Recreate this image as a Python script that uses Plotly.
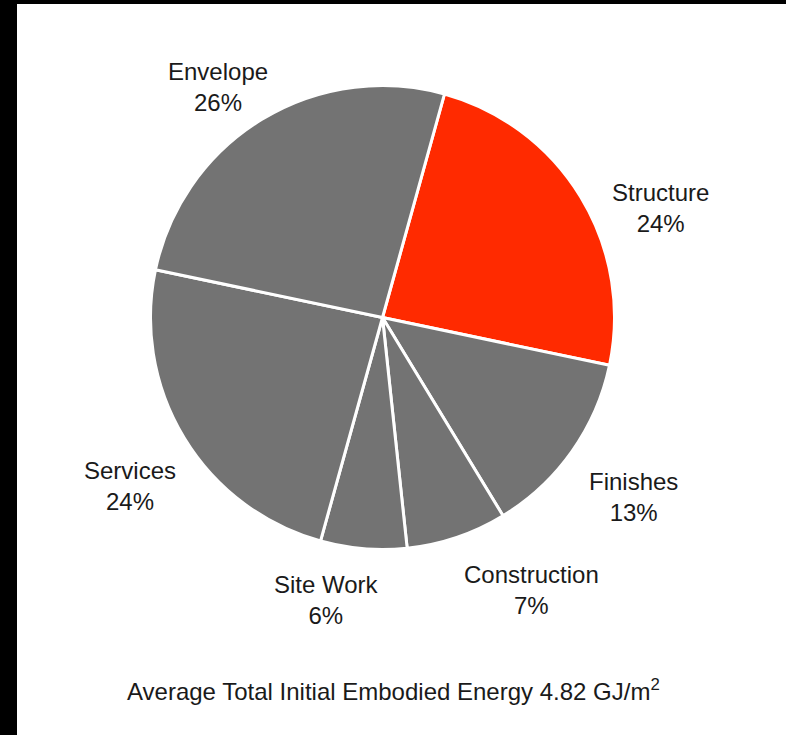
import plotly.graph_objects as go

# Embodied energy share by building element (%)
labels = ["Structure", "Finishes", "Construction", "Site Work", "Services", "Envelope"]
values = [24, 13, 7, 6, 24, 26]
colors = ["#ff2a00", "#737373", "#737373", "#737373", "#737373", "#737373"]
title_text = "Average Total Initial Embodied Energy 4.82 GJ/m<sup>2</sup>"

W, H = 786, 735
cx, cy, r = 382.5, 317.5, 232  # pie centre / radius in pixels (from top-left)

# label anchor points in pixels (x, y from top)
label_pos = {
    "Envelope": (218, 87),
    "Structure": (660, 208),
    "Finishes": (633, 497),
    "Construction": (531, 590),
    "Site Work": (326, 600),
    "Services": (130, 486),
}

fig = go.Figure(go.Pie(
    labels=labels,
    values=values,
    sort=False,
    direction="clockwise",
    rotation=15.5,
    marker=dict(colors=colors, line=dict(color="white", width=3)),
    textinfo="none",
    hoverinfo="label+percent",
    showlegend=False,
    domain=dict(x=[(cx - r) / W, (cx + r) / W],
                y=[(H - cy - r) / H, (H - cy + r) / H]),
))

font = dict(family="Liberation Sans, Arial, sans-serif", size=24, color="#1a1a1a")
annotations = []
for lab, val in zip(labels, values):
    px, py = label_pos[lab]
    annotations.append(dict(
        x=px / W, y=1 - py / H, xref="paper", yref="paper",
        text=f"{lab}<br>{val}%", showarrow=False, font=font,
        xanchor="center", yanchor="middle", align="center",
    ))
annotations.append(dict(
    x=393 / W, y=1 - 690 / H, xref="paper", yref="paper",
    text=title_text, showarrow=False,
    font=dict(family="Liberation Sans, Arial, sans-serif", size=24, color="#1a1a1a"),
    xanchor="center", yanchor="middle",
))

# dark frame strips along the top and left edges
shapes = [
    dict(type="rect", xref="paper", yref="paper", x0=0, x1=17 / W, y0=0, y1=1,
         fillcolor="black", line=dict(width=0), layer="above"),
    dict(type="rect", xref="paper", yref="paper", x0=0, x1=1, y0=1 - 4 / H, y1=1,
         fillcolor="black", line=dict(width=0), layer="above"),
]

fig.update_layout(
    width=W, height=H,
    margin=dict(l=0, r=0, t=0, b=0),
    paper_bgcolor="white",
    plot_bgcolor="white",
    annotations=annotations,
    shapes=shapes,
)

fig.write_html("out.html", config={"displayModeBar": False})
